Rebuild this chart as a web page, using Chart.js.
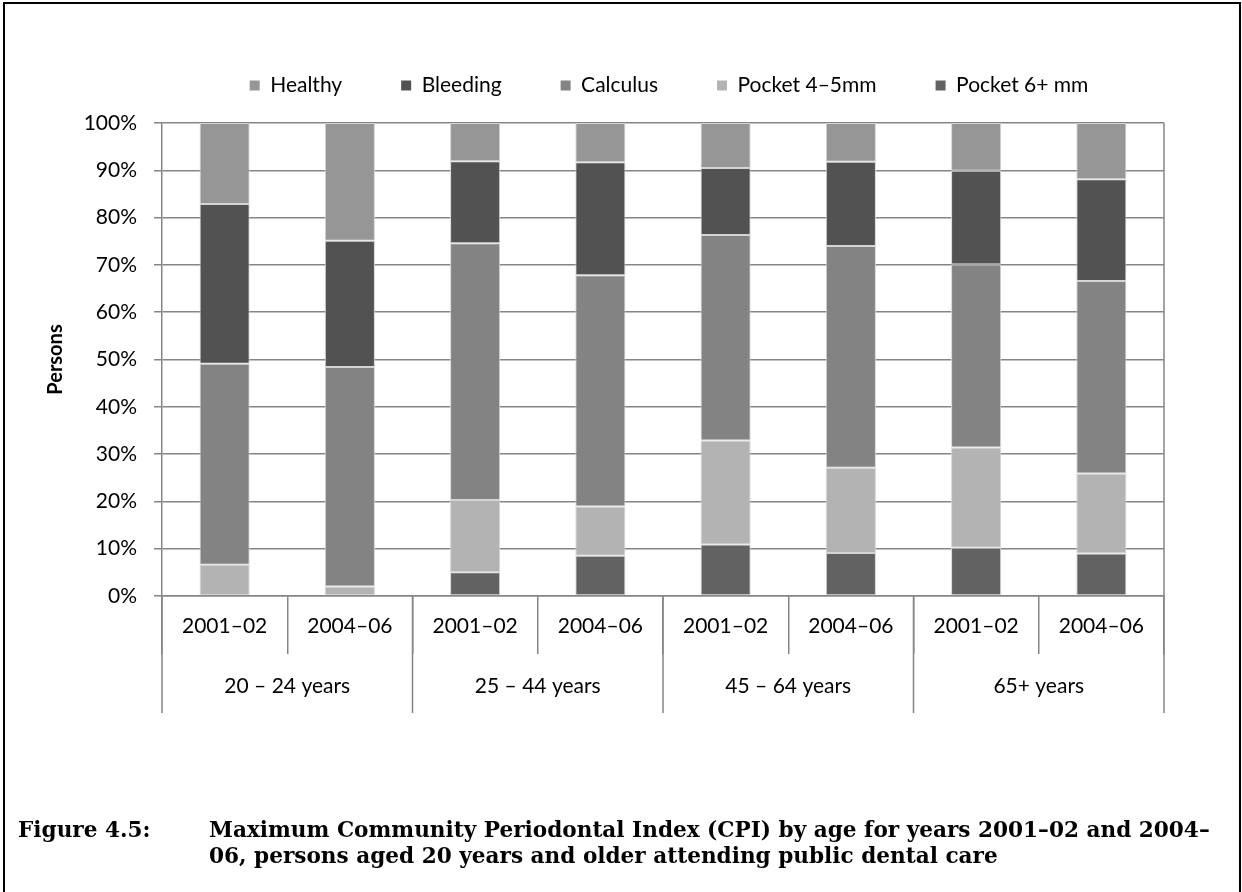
<!DOCTYPE html>
<html>
<head>
<meta charset="utf-8">
<script src="https://cdn.jsdelivr.net/npm/chart.js@4/dist/chart.umd.min.js"></script>
<style>
  html, body { margin: 0; padding: 0; background: #fff; }
  body { width: 1242px; height: 892px; position: relative; overflow: hidden; }
  #c { position: absolute; left: 0; top: 0; }
  #frame { position: absolute; left: 3px; top: 2px; width: 1238px; height: 1000px; box-sizing: border-box; border: 2px solid #000; pointer-events: none; }
  .cap { position: absolute; font-family: "DejaVu Serif", serif; font-weight: bold; font-size: 21px; line-height: 26px; color: #000; white-space: nowrap; }
</style>
</head>
<body>
<canvas id="c" width="1242" height="892"></canvas>
<div id="frame"></div>
<div class="cap" id="figNo" style="left:18px; top:817px;">Figure 4.5:</div>
<div class="cap" id="capText" style="left:209px; top:817px;"><span id="l1">Maximum Community Periodontal Index (CPI) by age for years 2001–02 and 2004–</span><br><span id="l2">06, persons aged 20 years and older attending public dental care</span></div>
<script>
// ---- data ----
const periods = ["2001–02", "2004–06", "2001–02", "2004–06", "2001–02", "2004–06", "2001–02", "2004–06"];
const ageGroups = ["20 – 24 years", "25 – 44 years", "45 – 64 years", "65+ years"];
const yTicks = [0, 10, 20, 30, 40, 50, 60, 70, 80, 90, 100];
// stacked bottom -> top
const pocket6 = [0, 0, 5.0, 8.5, 10.9, 9.1, 10.2, 9.0];
const pocket45 = [6.6, 2.0, 15.3, 10.4, 22.0, 18.0, 21.2, 16.9];
const calculus = [42.5, 46.4, 54.3, 48.9, 43.4, 46.9, 38.7, 40.7];
const bleeding = [33.8, 26.7, 17.3, 23.9, 14.2, 17.8, 19.8, 21.5];
const healthy = [17.1, 24.9, 8.1, 8.3, 9.5, 8.2, 10.1, 11.9];
const seriesNames = ["Pocket 6+ mm", "Pocket 4–5mm", "Calculus", "Bleeding", "Healthy"];
const seriesColors = ["#626262", "#b3b3b3", "#838383", "#525252", "#969696"];
const seriesValues = [pocket6, pocket45, calculus, bleeding, healthy];

const GRID = "#858585";
const FONT = "Lato";
Chart.defaults.font.family = FONT;
Chart.defaults.color = "#000";

const groupAxisPlugin = {
  id: "groupAxis",
  afterDraw(chart) {
    const ctx = chart.ctx;
    const x = chart.scales.x;
    const area = chart.chartArea;
    const half = (x.getPixelForValue(1) - x.getPixelForValue(0)) / 2;
    ctx.save();
    ctx.strokeStyle = GRID;
    ctx.lineWidth = 1.5;
    // right border of plot
    ctx.beginPath();
    ctx.moveTo(area.right, area.top);
    ctx.lineTo(area.right, area.bottom);
    ctx.stroke();
    // group separators
    for (let g = 0; g <= ageGroups.length; g++) {
      const idx = g * 2;
      const px = idx < periods.length ? x.getPixelForValue(idx) - half : x.getPixelForValue(periods.length - 1) + half;
      ctx.beginPath();
      ctx.moveTo(px, area.bottom);
      ctx.lineTo(px, area.bottom + 117);
      ctx.stroke();
    }
    // group labels
    ctx.fillStyle = "#000";
    ctx.font = "21px " + FONT;
    ctx.textAlign = "center";
    ctx.textBaseline = "middle";
    ageGroups.forEach((lab, g) => {
      const cx = (x.getPixelForValue(g * 2) + x.getPixelForValue(g * 2 + 1)) / 2;
      ctx.fillText(lab, cx, area.bottom + 90);
    });
    ctx.restore();
  }
};

const legendShift = {
  id: "legendShift",
  afterLayout(chart) {
    const dx = 6;
    chart.legend.left += dx;
    chart.legend.right += dx;
  }
};

new Chart(document.getElementById("c"), {
  type: "bar",
  data: {
    labels: periods,
    datasets: seriesNames.map((n, i) => ({
      label: n,
      data: seriesValues[i],
      backgroundColor: seriesColors[i],
      borderColor: "#d4d4d4",
      borderWidth: 1,
      borderSkipped: false,
      barPercentage: 0.4,
      categoryPercentage: 1.0
    }))
  },
  options: {
    responsive: false,
    animation: false,
    devicePixelRatio: 1,
    layout: { padding: { left: 20, right: 78, top: 16, bottom: 166 } },
    plugins: {
      tooltip: { enabled: false },
      legend: {
        position: "top",
        fullSize: false,
        weight: 1000,
        labels: {
          boxWidth: 10,
          boxHeight: 10,
          padding: 59,
          color: "#000",
          font: { size: 21, family: FONT },
          generateLabels(chart) {
            return Chart.defaults.plugins.legend.labels.generateLabels(chart).map(l => Object.assign(l, { lineWidth: 0 }));
          },
          sort: (a, b) => b.datasetIndex - a.datasetIndex
        }
      },
      title: {
        display: true,
        text: "",
        weight: 500,
        padding: 0,
        font: { size: 17, lineHeight: 1 }
      }
    },
    scales: {
      x: {
        stacked: true,
        grid: { display: true, drawOnChartArea: false, drawTicks: true, tickLength: 58, color: GRID, lineWidth: 1.5, offset: true },
        border: { display: true, color: GRID, width: 1.5 },
        ticks: { font: { size: 21, family: FONT }, color: "#000", padding: -40, maxRotation: 0, autoSkip: false },
        afterFit(scale) { scale.height = 130; }
      },
      y: {
        stacked: true,
        min: 0,
        max: 100,
        afterBuildTicks(scale) { scale.ticks = yTicks.map(v => ({ value: v })); },
        ticks: { font: { size: 21, family: FONT }, color: "#000", padding: 17, callback: v => v + "%" },
        grid: { color: GRID, lineWidth: 1.5, tickLength: 8 },
        border: { display: true, color: GRID, width: 1.5 },
        title: { display: true, text: "Persons", color: "#000", font: { size: 20, weight: "bold", family: FONT }, padding: { top: 24, bottom: 0 } },
        afterFit(scale) { scale.width = 142; }
      }
    }
  },
  plugins: [groupAxisPlugin, legendShift]
});

// fit caption font size to the reference line width
const capText = document.getElementById("capText");
const figNo = document.getElementById("figNo");
const l1 = document.getElementById("l1");
const baseFs = 21;
const w1 = l1.getBoundingClientRect().width;
const fs = baseFs * 1001 / w1;
capText.style.fontSize = fs + "px";
figNo.style.fontSize = fs + "px";
</script>
</body>
</html>
